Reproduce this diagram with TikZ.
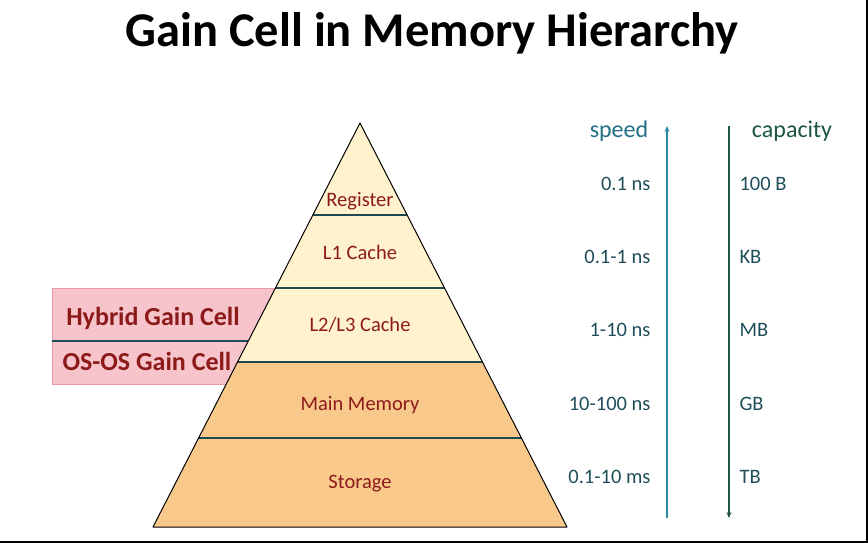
\documentclass[tikz,border=0pt]{standalone}
\usepackage{fontspec}
\setmainfont{Carlito}
\usepackage{xcolor}
\usetikzlibrary{arrows.meta}
\usetikzlibrary{calc,positioning}
\definecolor{cream}{HTML}{FFF2CC}
\definecolor{peach}{HTML}{F9C98C}
\definecolor{rose}{HTML}{F6C4CA}
\definecolor{roseline}{HTML}{E89AA4}
\definecolor{darkred}{HTML}{8C1A1A}
\definecolor{divteal}{HTML}{1F4A52}
\definecolor{speedteal}{HTML}{2A8AA6}
\definecolor{valteal}{HTML}{1F4E5A}
\definecolor{capgreen}{HTML}{1C5446}

\begin{document}
\begin{tikzpicture}[x=1pt,y=-1pt,>={Stealth[length=6pt,width=5pt]},
	layer/.style={font=\fontsize{20.5}{22}\selectfont,text=darkred},
	cell/.style={font=\bfseries\fontsize{26}{28}\selectfont,text=darkred},
	spdval/.style={font=\fontsize{20.5}{22}\selectfont,text=valteal,anchor=east},
	capval/.style={font=\fontsize{20.5}{22}\selectfont,text=valteal,anchor=west},]
							\useasboundingbox (0,0) rectangle (868,543);
							\draw[line width=2pt] (867,0) -- (867,542) -- (0,542);
							\node[font=\bfseries\fontsize{48.5}{52}\selectfont] (title) at (432,33) {Gain Cell in Memory Hierarchy};
							% gain cell box
							\draw[fill=rose,draw=roseline] (52,288) rectangle (290,384);
							\coordinate (apex) at (360,123); \coordinate (bl) at (153,527); \coordinate (br) at (567,527);
							\draw[divteal,line width=1.6pt] (52,341) -- (262,341);
							\node[cell] (hybrid) at (153,318) {Hybrid Gain Cell};
							\node[cell] (osos) at (147,361) {OS-OS Gain Cell};
							% pyramid
							\foreach \t [count=\i] in {0.2277,0.4084,0.5916,0.7797}{
								\coordinate (l\i) at ($(apex)!\t!(bl)$); \coordinate (r\i) at ($(apex)!\t!(br)$);
							}
							\fill[cream] (apex) -- (l3) -- (r3) -- cycle;
							\fill[peach] (l3) -- (bl) -- (br) -- (r3) -- cycle;
							\foreach \i in {1,...,4}{\draw[divteal,line width=1.6pt] (l\i) -- (r\i);}
							\draw[line width=1pt,line join=round] (apex) -- (bl) -- (br) -- cycle;
							\node[layer] (reg) at (360,201) {Register};
							\node[layer] (l1c) at (360,252) {L1 Cache};
							\node[layer] (l23c) at (360,325) {L2/L3 Cache};
							\node[layer] (mem) at (360,405) {Main Memory};
							\node[layer] (sto) at (360,484) {Storage};
							% speed and capacity
							\coordinate (sb) at (667,518); \coordinate (st) at (667,126);
							\coordinate (ct) at (729,126); \coordinate (cb) at (729,518);
							\draw[->,speedteal,line width=1.5pt] (sb) -- (st);
							\draw[->,capgreen,line width=1.5pt] (ct) -- (cb);
							\node[font=\fontsize{24}{26}\selectfont,text=speedteal!80!black] (speed) at (619,131) {speed};
							\node[font=\fontsize{24}{26}\selectfont,text=capgreen] (capacity) at (792,131) {capacity};
							\node[spdval] (s1) at (654,184) {0.1 ns};
							\node[spdval] (s2) at (654,257) {0.1-1 ns};
							\node[spdval] (s3) at (654,330) {1-10 ns};
							\node[spdval] (s4) at (654,404) {10-100 ns};
							\node[spdval] (s5) at (654,477) {0.1-10 ms};
							\node[capval] (c1) at (736,184) {100 B};
							\node[capval] (c2) at (736,257) {KB};
							\node[capval] (c3) at (736,330) {MB};
							\node[capval] (c4) at (736,404) {GB};
							\node[capval] (c5) at (736,477) {TB};

						\end{tikzpicture}
\end{document}
